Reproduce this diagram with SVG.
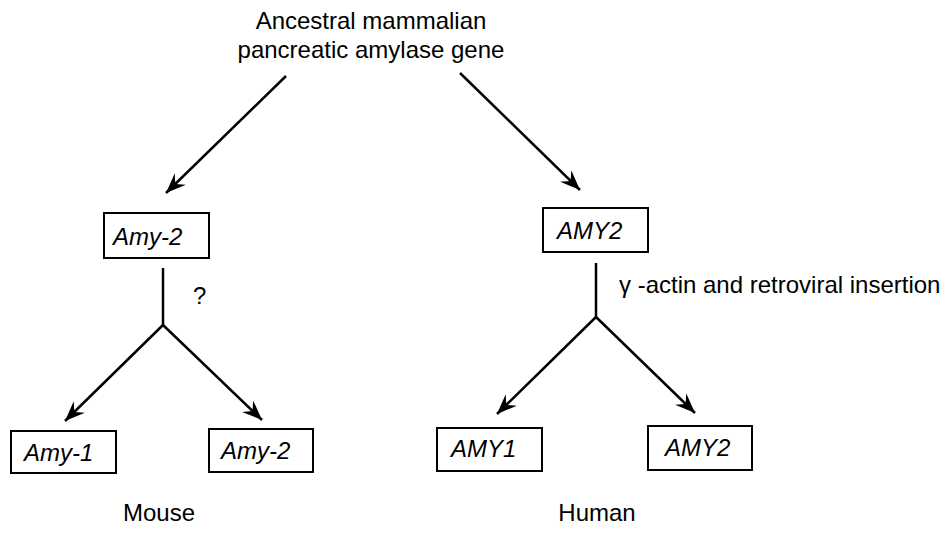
<svg xmlns="http://www.w3.org/2000/svg" width="944" height="533" viewBox="0 0 944 533">
  <style>
    text { font-family: "Liberation Sans", Arial, sans-serif; font-size: 24px; fill: #000; }
    .gene { font-style: italic; }
    .box { fill: #fff; stroke: #000; stroke-width: 2; }
    .conn { stroke: #000; stroke-width: 2.5; fill: none; }
  </style>
  <defs>
    <marker id="arrow" markerUnits="userSpaceOnUse" markerWidth="22" markerHeight="20" refX="20" refY="9" orient="auto">
      <path d="M0,1 L20,9 L0,17 L7,9 z" fill="#000"/>
    </marker>
  </defs>
  <rect width="944" height="533" fill="#fff"/>

  <g id="ancestor">
    <text x="371" y="29" text-anchor="middle">Ancestral mammalian</text>
    <text x="371" y="58" text-anchor="middle">pancreatic amylase gene</text>
  </g>

  <g id="connectors">
    <line class="conn" x1="286" y1="76" x2="166" y2="193" marker-end="url(#arrow)"/>
    <line class="conn" x1="460" y1="73" x2="580" y2="190" marker-end="url(#arrow)"/>
    <polyline class="conn" points="163,268 163,325"/>
    <line class="conn" x1="163" y1="325" x2="65" y2="421" marker-end="url(#arrow)"/>
    <line class="conn" x1="163" y1="325" x2="262" y2="420" marker-end="url(#arrow)"/>
    <polyline class="conn" points="596,263 596,317"/>
    <line class="conn" x1="596" y1="317" x2="497" y2="414" marker-end="url(#arrow)"/>
    <line class="conn" x1="596" y1="317" x2="695" y2="413" marker-end="url(#arrow)"/>
    <text x="193" y="304">?</text>
    <text x="619" y="293">γ -actin and retroviral insertion</text>
  </g>

  <g id="mouse-amy2">
    <rect class="box" x="104" y="213" width="105" height="45"/>
    <text class="gene" x="113" y="245">Amy-2</text>
  </g>

  <g id="human-amy2">
    <rect class="box" x="543" y="208" width="105" height="44"/>
    <text class="gene" x="557" y="239">AMY2</text>
  </g>

  <g id="mouse-amy1-out">
    <rect class="box" x="11" y="431" width="105" height="42"/>
    <text class="gene" x="24" y="461">Amy-1</text>
  </g>

  <g id="mouse-amy2-out">
    <rect class="box" x="209" y="429" width="104" height="43"/>
    <text class="gene" x="221" y="459">Amy-2</text>
  </g>

  <g id="human-amy1-out">
    <rect class="box" x="437" y="428" width="105" height="43"/>
    <text class="gene" x="451" y="457">AMY1</text>
  </g>

  <g id="human-amy2-out">
    <rect class="box" x="648" y="426" width="104" height="44"/>
    <text class="gene" x="665" y="456">AMY2</text>
  </g>

  <g id="labels">
    <text x="159" y="521" text-anchor="middle">Mouse</text>
    <text x="597" y="521" text-anchor="middle">Human</text>
  </g>
</svg>
